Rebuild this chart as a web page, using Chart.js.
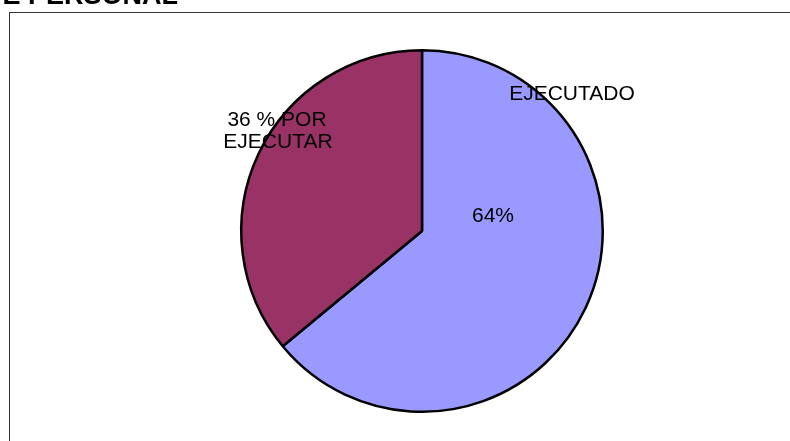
<!DOCTYPE html>
<html>
<head>
<meta charset="utf-8">
<script src="https://cdn.jsdelivr.net/npm/chart.js@4/dist/chart.umd.min.js"></script>
<style>
  html, body { margin: 0; padding: 0; background: #fff; }
  #wrap { position: relative; width: 790px; height: 441px; }
</style>
</head>
<body>
<div id="wrap"><canvas id="pieChart" width="790" height="441"></canvas></div>
<script>
const categories = ['EJECUTADO', 'POR EJECUTAR'];
const percentValues = [64, 36];
const sliceColors = ['#9999FF', '#993366'];
const titleText = 'E PERSONAL';

// frame + cut-off title + slice labels
const decorations = {
    id: 'decorations',
    beforeDraw(chart) {
        const c = chart.ctx;
        c.save();
        c.strokeStyle = '#333';
        c.lineWidth = 1;
        c.strokeRect(9.5, 12.5, 900, 600);
        c.fillStyle = '#000';
        c.font = 'bold 27px "Liberation Sans", Arial, sans-serif';
        c.textAlign = 'right';
        c.textBaseline = 'alphabetic';
        c.fillText(titleText, 178, 4);
        c.restore();
    },
    afterDraw(chart) {
        const arc = chart.getDatasetMeta(0).data[0];
        const cx = arc.x, cy = arc.y;
        const c = chart.ctx;
        c.save();
        c.fillStyle = '#000';
        c.font = '21px "Liberation Sans", Arial, sans-serif';
        c.textAlign = 'center';
        c.textBaseline = 'alphabetic';
        c.fillText(categories[0], cx + 150, cy - 131);
        c.fillText(percentValues[0] + '%', cx + 71, cy - 9);
        c.fillText(percentValues[1] + ' % POR', cx - 145, cy - 105);
        c.fillText('EJECUTAR', cx - 144, cy - 83);
        c.restore();
    }
};

const ctx = document.getElementById('pieChart').getContext('2d');
new Chart(ctx, {
    type: 'pie',
    data: {
        labels: categories,
        datasets: [{
            data: percentValues,
            backgroundColor: sliceColors,
            borderColor: '#000',
            borderWidth: 2.5
        }]
    },
    options: {
        responsive: false,
        animation: false,
        devicePixelRatio: 1,
        layout: { padding: { left: 240, right: 186, top: 49, bottom: 28 } },
        plugins: {
            legend: { display: false },
            tooltip: { enabled: false }
        }
    },
    plugins: [decorations]
});
</script>
</body>
</html>
